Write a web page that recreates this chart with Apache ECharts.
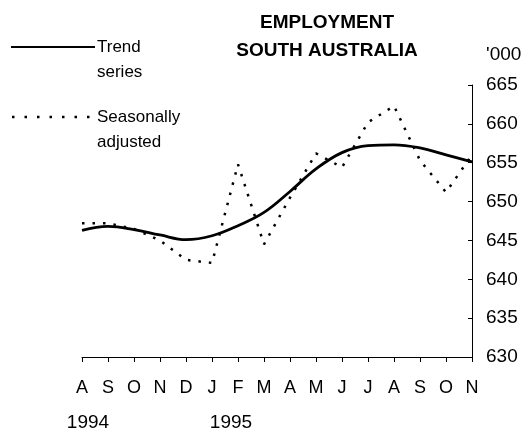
<!DOCTYPE html>
<html>
<head>
<meta charset="utf-8">
<script src="https://cdn.jsdelivr.net/npm/echarts@6/dist/echarts.min.js"></script>
<style>
  html, body { margin: 0; padding: 0; background: #fff; }
  #chart { width: 528px; height: 436px; }
</style>
</head>
<body>
<div id="chart"></div>
<script>
// Aug 1994 .. Nov 1995
const months = ['A', 'S', 'O', 'N', 'D', 'J', 'F', 'M', 'A', 'M', 'J', 'J', 'A', 'S', 'O', 'N']
const trend = [646.3, 646.8, 646.4, 645.7, 645.1, 645.6, 646.9, 648.6, 651.3, 654.2, 656.3, 657.2, 657.3, 656.9, 656.0, 655.1]
const seasAdj = [647.2, 647.2, 646.5, 645.0, 642.5, 642.1, 654.8, 644.5, 650.5, 656.2, 654.4, 660.2, 662.3, 655.3, 651.2, 656.0]
const yTicks = [630, 665, 5]
const years = [['1994', 88], ['1995', 231]]

const font = '"Liberation Sans", Arial, sans-serif'
const chart = echarts.init(document.getElementById('chart'))

chart.setOption({
  animation: false,
  backgroundColor: '#fff',
  title: {
    text: 'EMPLOYMENT\nSOUTH AUSTRALIA',
    left: 322,
    top: 4,
    textAlign: 'center',
    textStyle: {fontFamily: font, fontSize: 19, fontWeight: 'bold', color: '#000', lineHeight: 28}
  },
  grid: {left: 82, right: 56, top: 85, bottom: 79},
  xAxis: {
    type: 'category',
    data: months,
    boundaryGap: false,
    axisLine: {lineStyle: {color: '#000', width: 1}},
    axisTick: {length: 5, lineStyle: {color: '#000'}},
    axisLabel: {color: '#000', fontFamily: font, fontSize: 18, margin: 22, interval: 0},
    splitLine: {show: false}
  },
  yAxis: {
    type: 'value',
    position: 'right',
    min: yTicks[0],
    max: yTicks[1],
    interval: yTicks[2],
    axisLine: {show: true, lineStyle: {color: '#000', width: 1}},
    axisTick: {show: true, inside: true, length: 4, lineStyle: {color: '#000'}},
    axisLabel: {color: '#000', fontFamily: font, fontSize: 19, margin: 14},
    splitLine: {show: false}
  },
  series: [
    {
      name: 'Trend series',
      type: 'line',
      data: trend,
      smooth: 0.4,
      showSymbol: false,
      lineStyle: {color: '#000', width: 2.8}
    },
    {
      name: 'Seasonally adjusted',
      type: 'line',
      data: seasAdj,
      showSymbol: false,
      lineStyle: {color: '#000', width: 2.5, type: [2.5, 8]}
    }
  ],
  graphic: [
    // legend
    {type: 'line', shape: {x1: 11, y1: 47, x2: 95, y2: 47}, style: {stroke: '#000', lineWidth: 2.2}},
    {type: 'text', x: 97, y: 47, style: {text: 'Trend', font: '17px ' + font, fill: '#000', verticalAlign: 'middle'}},
    {type: 'text', x: 97, y: 72, style: {text: 'series', font: '17px ' + font, fill: '#000', verticalAlign: 'middle'}},
    {type: 'line', shape: {x1: 12, y1: 117, x2: 90, y2: 117}, style: {stroke: '#000', lineWidth: 2.5, lineDash: [2.5, 10]}},
    {type: 'text', x: 97, y: 117, style: {text: 'Seasonally', font: '17px ' + font, fill: '#000', verticalAlign: 'middle'}},
    {type: 'text', x: 97, y: 142, style: {text: 'adjusted', font: '17px ' + font, fill: '#000', verticalAlign: 'middle'}},
    // unit label
    {type: 'text', x: 486, y: 55, style: {text: "'000", font: '19px ' + font, fill: '#000', verticalAlign: 'middle'}},
    // year labels
    ...years.map(([t, x]) => ({
      type: 'text', x: x, y: 423,
      style: {text: t, font: '19px ' + font, fill: '#000', align: 'center', verticalAlign: 'middle'}
    }))
  ]
})
</script>
</body>
</html>
